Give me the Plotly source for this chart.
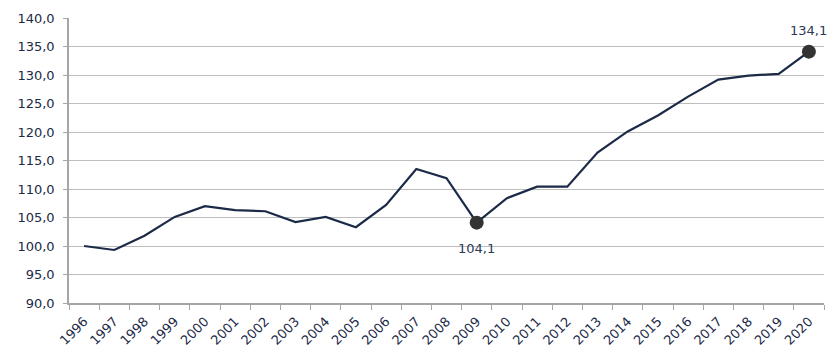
import plotly.graph_objects as go

years = [str(y) for y in range(1996, 2021)]
values = [100.0, 99.3, 101.8, 105.1, 107.0, 106.3, 106.1, 104.2, 105.1, 103.3,
          107.2, 113.5, 111.9, 104.1, 108.4, 110.4, 110.4, 116.4, 120.1, 122.9,
          126.2, 129.2, 129.9, 130.2, 134.1]
highlight_years = ["2009", "2020"]
highlight_values = [104.1, 134.1]
highlight_shift = [-26, 21]

navy = "#1B2A47"
font_family = "'DejaVu Sans', sans-serif"

fig = go.Figure()
fig.add_trace(go.Scatter(x=years, y=values, mode="lines",
                         line=dict(color=navy, width=2.2), hoverinfo="skip"))
fig.add_trace(go.Scatter(x=highlight_years, y=highlight_values, mode="markers",
                         marker=dict(color="#333333", size=14), hoverinfo="skip"))
for yr, v, s in zip(highlight_years, highlight_values, highlight_shift):
    fig.add_annotation(x=years.index(yr), y=v, text=f"{v:.1f}".replace(".", ","),
                       showarrow=False, yshift=s,
                       font=dict(color="#2B3A55", size=13, family=font_family))

# page body has an 8px default margin; compensate so the plot lands where intended
fig.update_layout(
    width=832, height=355,
    margin=dict(l=61, r=16, t=10, b=60),
    plot_bgcolor="white", paper_bgcolor="white",
    showlegend=False,
    separators=",.",
    font=dict(family=font_family, color=navy, size=13),
)
fig.update_xaxes(type="category", range=[-0.5, 24.5], tickangle=-45,
                 tickson="boundaries", automargin=False, ticklabelstandoff=4,
                 ticks="outside", ticklen=5, tickcolor="#A6A6A6",
                 showline=True, linecolor="#A6A6A6", linewidth=1.5,
                 showgrid=False, tickfont=dict(size=13, color=navy))
fig.update_yaxes(range=[90, 140], dtick=5, tickformat=".1f", automargin=False,
                 ticklabelstandoff=6,
                 ticks="outside", ticklen=4, tickcolor="#A6A6A6",
                 showline=True, linecolor="#A6A6A6", linewidth=1.5,
                 showgrid=True, gridcolor="#BDBDBD", gridwidth=1.3,
                 zeroline=False, tickfont=dict(size=13, color=navy))

fig.write_html("out.html")
